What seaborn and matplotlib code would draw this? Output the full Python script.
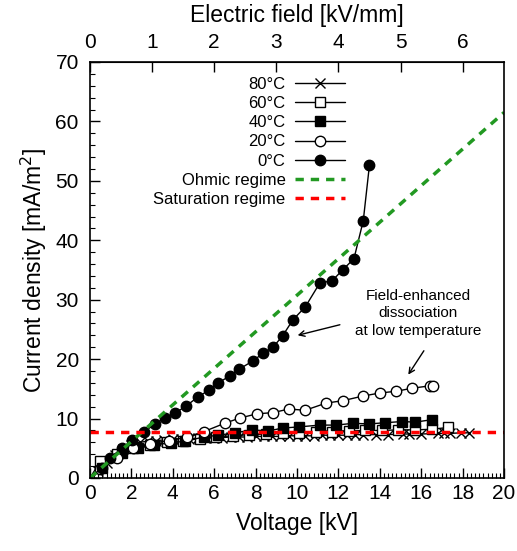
import matplotlib
matplotlib.use("Agg")
import matplotlib.pyplot as plt
import seaborn as sns
import pandas as pd

sns.set_style("ticks")
plt.rcParams['font.family'] = ['Liberation Sans', 'DejaVu Sans']
plt.rcParams.update({"text.color": "black", "axes.labelcolor": "black",
                     "xtick.color": "black", "ytick.color": "black",
                     "axes.edgecolor": "black"})

# ---- data ----
v_0C = [0.0, 0.58, 0.97, 1.55, 2.03, 2.6, 3.14, 3.62, 4.1, 4.64, 5.2, 5.75, 6.2, 6.76, 7.2,
        7.87, 8.36, 8.84, 9.3, 9.8, 10.4, 11.1, 11.7, 12.2, 12.75, 13.2, 13.5]
j_0C = [0.0, 1.7, 3.4, 5.0, 6.4, 7.7, 9.1, 10.1, 10.9, 12.1, 13.6, 14.8, 16.0, 17.2, 18.3,
        19.7, 21.0, 22.0, 23.9, 26.6, 28.8, 32.8, 33.2, 35.0, 36.9, 43.3, 52.7]

v_20C = [0.0, 0.5, 1.3, 2.1, 2.9, 3.8, 4.7, 5.5, 6.5, 7.25, 8.07, 8.84, 9.6, 10.4, 11.4,
         12.2, 13.2, 14.0, 14.8, 15.55, 16.4, 16.57]
j_20C = [0.0, 1.5, 3.3, 5.0, 5.8, 6.3, 6.9, 7.8, 9.2, 10.1, 10.8, 11.0, 11.6, 11.4, 12.6,
         13.0, 13.8, 14.3, 14.6, 15.1, 15.5, 15.5]

v_40C = [0.0, 0.58, 1.55, 2.3, 3.1, 3.9, 4.6, 5.5, 6.2, 7.0, 7.85, 8.6, 9.3, 10.1, 11.1,
         11.9, 12.7, 13.5, 14.25, 15.07, 15.7, 16.5]
j_40C = [0.0, 1.7, 4.2, 5.0, 5.6, 5.9, 6.2, 6.9, 7.2, 7.6, 8.1, 7.9, 8.4, 8.6, 8.9,
         8.9, 9.2, 9.1, 9.3, 9.5, 9.4, 9.8]

v_60C = [0.0, 0.5, 1.3, 2.1, 2.9, 3.7, 4.5, 5.3, 6.1, 6.9, 7.7, 8.5, 9.3, 10.1, 10.9,
         11.7, 12.5, 13.3, 14.1, 14.9, 15.7, 16.5, 17.3]
j_60C = [0.0, 2.8, 4.0, 5.0, 5.6, 6.0, 6.3, 6.6, 6.9, 7.1, 7.3, 7.4, 7.5, 7.6, 7.7,
         7.8, 7.9, 8.0, 8.0, 8.1, 8.1, 8.2, 8.5]

v_80C = [0.0, 0.4, 0.8, 1.2, 1.6, 2.0, 2.4, 2.8, 3.2, 3.6, 4.0, 4.4, 4.8, 5.2, 5.6, 6.0, 6.4,
         6.8, 7.2, 7.6, 8.0, 8.4, 8.8, 9.2, 9.6, 10.0, 10.4, 10.8, 11.2, 11.6, 12.0, 12.4,
         12.8, 13.2, 13.8, 14.4, 15.1, 15.4, 16.0, 16.8, 17.1, 17.4, 17.9, 18.3]
j_80C = [0.0, 1.2, 2.5, 3.8, 4.9, 5.6, 6.0, 6.2, 6.3, 6.4, 6.5, 6.6, 6.6, 6.7, 6.7, 6.8, 6.8,
         6.9, 6.9, 6.9, 7.0, 7.0, 7.0, 7.0, 7.1, 7.1, 7.1, 7.1, 7.2, 7.2, 7.2, 7.2,
         7.3, 7.3, 7.3, 7.3, 7.4, 7.4, 7.4, 7.5, 7.5, 7.5, 7.6, 7.6]

ohmic_v = [0.0, 20.0]
ohmic_j = [0.0, 61.5]
sat_v = [0.0, 20.0]
sat_j = [7.7, 7.7]

x_ticks = [0, 2, 4, 6, 8, 10, 12, 14, 16, 18, 20]
y_ticks = [0, 10, 20, 30, 40, 50, 60, 70]
top_ticks = [0, 1, 2, 3, 4, 5, 6]
gap_mm = 3.0

# ---- figure ----
fig = plt.figure(figsize=(5.17, 5.51), dpi=100)
ax = fig.add_axes([0.174, 0.1325, 0.801, 0.755])

series = [
    ("80°C", v_80C, j_80C, dict(marker="x", mfc="black", mec="black", ms=7, mew=1.0)),
    ("60°C", v_60C, j_60C, dict(marker="s", mfc="white", mec="black", ms=7, mew=1.0)),
    ("40°C", v_40C, j_40C, dict(marker="s", mfc="black", mec="black", ms=7, mew=1.0)),
    ("20°C", v_20C, j_20C, dict(marker="o", mfc="white", mec="black", ms=7.5, mew=1.0)),
    ("0°C", v_0C, j_0C, dict(marker="o", mfc="black", mec="black", ms=7.5, mew=1.0)),
]
for lab, vx, jy, st in series:
    df = pd.DataFrame({"V": vx, "J": jy})
    sns.lineplot(data=df, x="V", y="J", ax=ax, sort=False, color="black", lw=1.0,
                 label=lab, markevery=list(range(1, len(vx))), **st)

sns.lineplot(x=ohmic_v, y=ohmic_j, ax=ax, color="#229922", lw=2.5, ls=(0, (2.4, 2.0)),
             label="Ohmic regime")
sns.lineplot(x=sat_v, y=sat_j, ax=ax, color="#ff0000", lw=2.5, ls=(0, (2.4, 2.0)),
             label="Saturation regime")

ax.set_xlim(0, 20)
ax.set_ylim(0, 70)
ax.set_xticks(x_ticks)
ax.set_yticks(y_ticks)
ax.xaxis.set_minor_locator(matplotlib.ticker.MultipleLocator(0.2))
ax.yaxis.set_minor_locator(matplotlib.ticker.MultipleLocator(2))
ax.tick_params(which="both", direction="in", top=False, right=False, labelsize=15)
ax.tick_params(which="major", length=7, width=1.0)
ax.tick_params(which="minor", length=3.5, width=0.8)
ax.tick_params(axis="x", which="major", pad=4)
ax.tick_params(axis="y", which="major", pad=8)
ax.set_xlabel("Voltage [kV]", fontsize=16.5, labelpad=7)
ax.set_ylabel("Current density [mA/m$^2$]", fontsize=16.5, labelpad=5)
for s in ax.spines.values():
    s.set_linewidth(1.2)
    s.set_color("black")

sec = ax.secondary_xaxis("top", functions=(lambda v: v / gap_mm, lambda f: f * gap_mm))
sec.set_xticks(top_ticks)
sec.tick_params(direction="in", length=7, width=1.0, labelsize=15, pad=7)
sec.set_xlabel("Electric field [kV/mm]", fontsize=16.5, labelpad=8)

leg = ax.legend(loc="upper right", bbox_to_anchor=(0.625, 0.972), frameon=False,
                markerfirst=False, fontsize=12, handlelength=3.0, labelspacing=0.25,
                handletextpad=0.6, borderaxespad=0.0, borderpad=0.2)
leg._legend_box.align = "right"
for vp in leg._legend_box.get_children()[1].get_children():
    vp.align = "right"

ax.text(15.85, 27.7, "Field-enhanced\ndissociation\nat low temperature", ha="center",
        va="center", fontsize=11, linespacing=1.35)
ax.annotate("", xy=(9.9, 23.9), xytext=(12.2, 25.9),
            arrowprops=dict(arrowstyle="->", color="black", lw=1.0))
ax.annotate("", xy=(15.3, 17.0), xytext=(16.2, 21.8),
            arrowprops=dict(arrowstyle="->", color="black", lw=1.0))

fig.savefig("out.png", dpi=100)
